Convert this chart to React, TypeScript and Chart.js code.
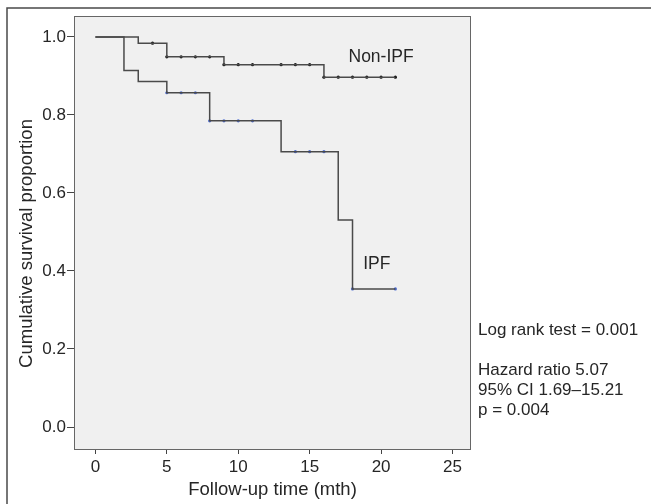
import React, { useEffect, useRef } from "react";
import { Chart, registerables } from "chart.js";

Chart.register(...registerables);

// ---- data ----
const xTickValues = [0, 5, 10, 15, 20, 25];
const yTickValues = [0.0, 0.2, 0.4, 0.6, 0.8, 1.0];

const nonIpfTimes = [0, 3, 5, 9, 16, 21];
const nonIpfSurvival = [1.0, 0.984, 0.949, 0.929, 0.897, 0.897];
const nonIpfCensored = [4, 5, 6, 7, 8, 9, 10, 11, 13, 14, 15, 16, 17, 18, 19, 20, 21];

const ipfTimes = [0, 2, 3, 5, 8, 13, 17, 18, 21];
const ipfSurvival = [1.0, 0.914, 0.886, 0.857, 0.785, 0.706, 0.531, 0.354, 0.354];
const ipfCensored = [5, 6, 7, 8, 9, 10, 11, 14, 15, 16, 18, 21];

const groupLabels = ["Non-IPF", "IPF"];
const axisTitles = { x: "Follow-up time (mth)", y: "Cumulative survival proportion" };
const statLines = ["Log rank test = 0.001", "Hazard ratio 5.07", "95% CI 1.69\u201315.21", "p = 0.004"];

const FONT = "'Liberation Sans', Arial, sans-serif";
const TEXT = "#262626";

function survAt(times: number[], surv: number[], t: number) {
  let v = surv[0];
  for (let i = 0; i < times.length; i++) if (times[i] <= t) v = surv[i];
  return v;
}

const decorPlugin = {
  id: "decor",
  beforeDraw(chart: any) {
    const { ctx, chartArea: a } = chart;
    ctx.save();
    ctx.fillStyle = "#f0f0f0";
    ctx.fillRect(a.left, a.top, a.right - a.left, a.bottom - a.top);
    // outer frame (top and left edges visible)
    ctx.strokeStyle = "#4a4a4a";
    ctx.lineWidth = 1.5;
    ctx.beginPath();
    ctx.moveTo(7, 504);
    ctx.lineTo(7, 8);
    ctx.lineTo(651, 8);
    ctx.stroke();
    ctx.restore();
  },
  afterDraw(chart: any) {
    const { ctx, chartArea: a, scales } = chart;
    const xs = scales.x;
    const ys = scales.y;
    ctx.save();
    ctx.strokeStyle = "#666";
    ctx.lineWidth = 1;
    ctx.strokeRect(a.left + 0.5, a.top + 0.5, a.right - a.left - 1, a.bottom - a.top);

    ctx.fillStyle = TEXT;
    ctx.font = `17.5px ${FONT}`;
    ctx.textAlign = "center";
    ctx.textBaseline = "middle";
    ctx.fillText(groupLabels[0], xs.getPixelForValue(20), ys.getPixelForValue(0.949));
    ctx.fillText(groupLabels[1], xs.getPixelForValue(19.7), ys.getPixelForValue(0.418));

    ctx.font = `17px ${FONT}`;
    ctx.textAlign = "left";
    const sx = a.right + 7;
    ctx.fillText(statLines[0], sx, 330);
    ctx.fillText(statLines[1], sx, 370);
    ctx.fillText(statLines[2], sx, 390);
    ctx.fillText(statLines[3], sx, 410);

    // y axis title
    ctx.font = `18.5px ${FONT}`;
    ctx.translate(27, 243.5);
    ctx.rotate(-Math.PI / 2);
    ctx.textAlign = "center";
    ctx.fillText(axisTitles.y, 0, 0);
    ctx.restore();
  },
};

export default function App() {
  const ref = useRef<HTMLCanvasElement | null>(null);
  useEffect(() => {
    if (!ref.current) return;
    const lineNon = nonIpfTimes.map((t, i) => ({ x: t, y: nonIpfSurvival[i] }));
    const lineIpf = ipfTimes.map((t, i) => ({ x: t, y: ipfSurvival[i] }));
    const censNon = nonIpfCensored.map((t) => ({ x: t, y: survAt(nonIpfTimes, nonIpfSurvival, t) }));
    const censIpf = ipfCensored.map((t) => ({ x: t, y: survAt(ipfTimes, ipfSurvival, t) }));

    const chart = new Chart(ref.current, {
      type: "line",
      data: {
        datasets: [
          {
            label: groupLabels[0],
            data: lineNon,
            stepped: "before",
            borderColor: "#4a4a4a",
            borderWidth: 1.5,
            pointRadius: 0,
            fill: false,
          },
          {
            label: groupLabels[1],
            data: lineIpf,
            stepped: "before",
            borderColor: "#4a4a4a",
            borderWidth: 1.5,
            pointRadius: 0,
            fill: false,
          },
          {
            type: "scatter",
            label: "Non-IPF censored",
            data: censNon,
            pointRadius: 1.6,
            pointBackgroundColor: "#111",
            pointBorderWidth: 0,
            showLine: false,
          },
          {
            type: "scatter",
            label: "IPF censored",
            data: censIpf,
            pointRadius: 1.6,
            pointBackgroundColor: "#4a6ad0",
            pointBorderWidth: 0,
            showLine: false,
          },
        ] as any,
      },
      options: {
        animation: false,
        responsive: false,
        layout: { padding: { left: 0, right: 180, top: 16, bottom: 0 } },
        plugins: { legend: { display: false }, tooltip: { enabled: false } },
        scales: {
          x: {
            type: "linear",
            min: -1.498,
            max: 26.295,
            afterFit: (s: any) => {
              s.height = 55;
            },
            afterBuildTicks: (s: any) => {
              s.ticks = xTickValues.map((v) => ({ value: v }));
            },
            grid: { drawOnChartArea: false, drawTicks: true, tickLength: 5, tickColor: "#444" },
            border: { display: false },
            ticks: { color: TEXT, font: { family: FONT, size: 17 }, padding: 3, maxRotation: 0 },
            title: {
              display: true,
              text: axisTitles.x,
              color: TEXT,
              font: { family: FONT, size: 18.5 },
              padding: { top: 0, bottom: 3 },
            },
          },
          y: {
            type: "linear",
            min: -0.0564,
            max: 1.0538,
            afterFit: (s: any) => {
              s.width = 74;
            },
            afterBuildTicks: (s: any) => {
              s.ticks = yTickValues.map((v) => ({ value: v }));
            },
            grid: { drawOnChartArea: false, drawTicks: true, tickLength: 7, tickColor: "#444" },
            border: { display: false },
            ticks: {
              color: TEXT,
              font: { family: FONT, size: 17 },
              padding: 1,
              callback: (v: any) => Number(v).toFixed(1),
            },
          },
        },
      },
      plugins: [decorPlugin],
    });
    return () => chart.destroy();
  }, []);

  return (
    <div style={{ position: "fixed", left: 0, top: 0, width: 651, height: 504, background: "#fff" }}>
      <canvas ref={ref} width={651} height={504} style={{ width: 651, height: 504, display: "block" }} />
    </div>
  );
}
